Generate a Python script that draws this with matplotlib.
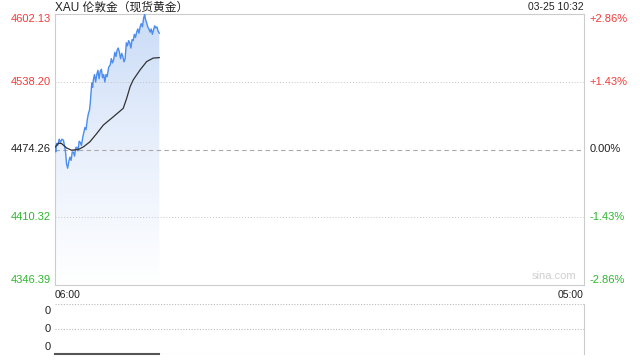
import numpy as np
import matplotlib.pyplot as plt
import matplotlib.transforms as mtransforms
from matplotlib.colors import LinearSegmentedColormap

plt.rcParams['font.family'] = ['Liberation Sans', 'Noto Sans CJK SC', 'DejaVu Sans']

# minutes after 06:00, session runs 06:00 -> 05:00 (1380 min)
session_len = 1380
base = 4474.26
y_ticks = [4602.13, 4538.20, 4474.26, 4410.32, 4346.39]
pct_labels = ['+2.86%', '+1.43%', '0.00%', '-1.43%', '-2.86%']

price_t = [0, 2, 4, 7, 11, 14, 18, 22, 26, 28, 30, 33, 36, 39, 42, 45, 48, 51, 54, 57,
           60, 63, 66, 69, 72, 75, 78, 81, 84, 87, 90, 92, 94, 96, 98, 100, 103, 106, 109,
           112, 115, 118, 121, 124, 127, 130, 133, 136, 140, 144, 147, 150, 153, 156, 159,
           162, 165, 168, 171, 174, 177, 180, 183, 186, 189, 192, 195, 198, 201, 204, 207,
           210, 213, 216, 219, 222, 225, 228, 231, 234, 236, 239, 242, 245, 248, 251, 254,
           257, 260, 263, 266, 269, 272]
price = [4476.7, 4472, 4480, 4478, 4484, 4481, 4484, 4483, 4475.5, 4470, 4461, 4456.6,
         4463, 4467, 4464, 4472, 4471.7, 4468, 4476, 4476.4, 4473, 4482, 4481, 4478, 4485,
         4490, 4495, 4493, 4502, 4508, 4511.5, 4518, 4528, 4537, 4533, 4540, 4545, 4538,
         4545, 4549, 4541, 4548, 4550, 4542, 4545, 4538, 4545, 4543, 4552, 4554, 4560,
         4556, 4559, 4566, 4562, 4568, 4570, 4566, 4560, 4565, 4562, 4557, 4560, 4575,
         4572, 4577, 4575, 4570, 4578, 4577, 4583, 4580, 4585, 4588, 4584, 4590, 4593,
         4590, 4598, 4602, 4597, 4594, 4590, 4588, 4585, 4588, 4583, 4587, 4591, 4589,
         4590, 4586, 4584]

avg_t = [0, 9, 17, 30, 43, 61, 74, 91, 109, 126, 152, 178, 187, 196, 204, 222, 239, 256, 272]
avg = [4476.4, 4480.2, 4479.9, 4475.8, 4473.6, 4474.3, 4476.7, 4481.5, 4489.4, 4497.3,
       4505.1, 4513.1, 4522.6, 4533.6, 4539.9, 4549.4, 4557.2, 4560.5, 4561.0]

vol_t = [0, 272]
vol = [0, 0]

red = '#f23b3b'
green = '#2fb52f'
grey = '#cccccc'

fig = plt.figure(figsize=(6.4, 3.6), dpi=100)
ax = fig.add_axes([55 / 640, 1 - 285 / 360, 529 / 640, 271 / 360])
ax.set_xlim(0, session_len)
ax.set_ylim(y_ticks[-1], y_ticks[0])

# gradient fill under the price line
cmap = LinearSegmentedColormap.from_list('fade', ['#ffffff', '#e9f0fc', '#cadcf7'])
grad = np.linspace(0, 1, 256).reshape(-1, 1)
poly = ax.fill_between(price_t, price, y_ticks[-1], color='none', lw=0)
img = ax.imshow(grad, aspect='auto', cmap=cmap, origin='lower',
                extent=[0, session_len, y_ticks[-1], y_ticks[0]], zorder=1)
img.set_clip_path(poly.get_paths()[0], transform=ax.transData)

ax.plot(price_t, price, color='#4a8cf0', lw=1.0, zorder=3)
ax.plot(avg_t, avg, color='#333333', lw=0.9, zorder=3)

for v in [y_ticks[1], y_ticks[3]]:
    ax.axhline(v, color='#c4c4c4', lw=0.7, ls=(0, (1, 2)), zorder=2)
ax.axhline(base, color='#aaaaaa', lw=0.8, ls=(0, (4, 3)), zorder=2)

for s in ax.spines.values():
    s.set_color(grey)
ax.set_xticks([])
ax.set_yticks([])

trans_l = mtransforms.blended_transform_factory(ax.transAxes, ax.transData)
colors = [red, red, '#222222', green, green]
vas = ['top', 'center', 'center', 'center', 'bottom']
for v, lab, c, va in zip(y_ticks, pct_labels, colors, vas):
    ax.text(-0.008, v, f'{v:.2f}', transform=trans_l, ha='right', va=va, color=c, fontsize=8)
    ax.text(1.01, v, lab, transform=trans_l, ha='left', va=va, color=c, fontsize=8)

fig.text(55 / 640, 1 - 7.5 / 360, 'XAU 伦敦金（现货黄金）', ha='left', va='center',
         fontsize=8.5, color='#222222')
fig.text(584 / 640, 1 - 7.5 / 360, '03-25 10:32', ha='right', va='center',
         fontsize=7.5, color='#222222')
ax.text(0.985, 0.015, 'sina.com', transform=ax.transAxes, ha='right', va='bottom',
        fontsize=8, color='#cfcfcf')
ax.text(0, -0.02, '06:00', transform=ax.transAxes, ha='left', va='top', fontsize=7.5, color='#222222')
ax.text(1, -0.02, '05:00', transform=ax.transAxes, ha='right', va='top', fontsize=7.5, color='#222222')

# volume panel
vx = fig.add_axes([55 / 640, 1 - 354 / 360, 529 / 640, 50 / 360])
vx.set_xlim(0, session_len)
vx.set_ylim(0, 2)
for v in [0, 1, 2]:
    vx.axhline(v, color='#bbbbbb', lw=0.8, ls=(0, (1, 1.5)))
vx.plot(vol_t, vol, color='#555555', lw=1.5, zorder=3, clip_on=False)
for s in ['left', 'top', 'bottom']:
    vx.spines[s].set_visible(False)
vx.spines['right'].set_color(grey)
vx.set_xticks([])
vx.set_yticks([])
vtrans = mtransforms.blended_transform_factory(vx.transAxes, vx.transData)
for v, va in zip([2, 1, 0], ['top', 'center', 'bottom']):
    vx.text(-0.008, v + (-0.1 if v == 2 else (0.1 if v == 0 else 0)), '0', transform=vtrans,
            ha='right', va=va, fontsize=8, color='#222222')

fig.savefig('out.png', dpi=100)
